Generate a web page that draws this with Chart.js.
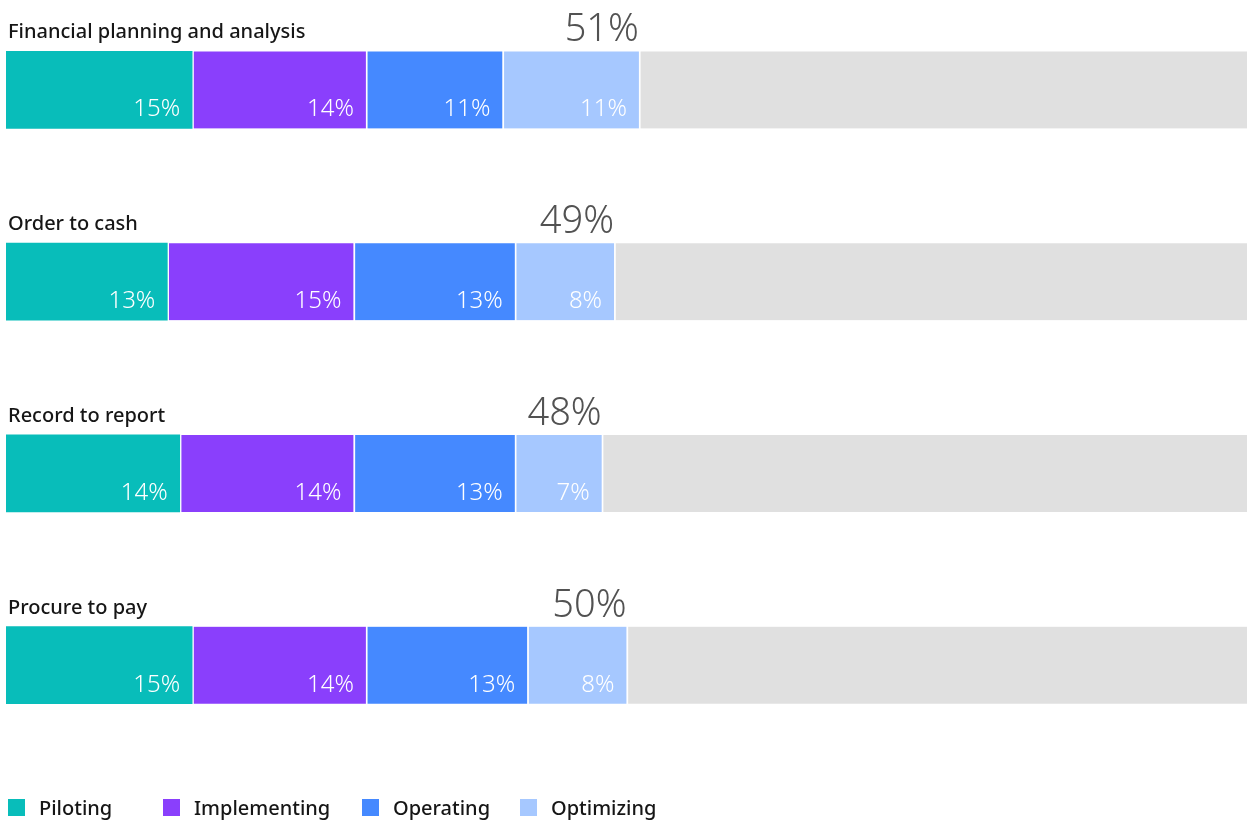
<!DOCTYPE html>
<html>
<head>
<meta charset="utf-8">
<script src="https://cdn.jsdelivr.net/npm/chart.js@4.4.1/dist/chart.umd.min.js"></script>
<style>
  html, body { margin: 0; padding: 0; background: #fff; overflow: hidden; }
  #wrap { position: relative; width: 1247px; height: 821px; overflow: hidden; }
  #holder { position: absolute; left: 0; top: -6px; width: 1247px; height: 827px; }
  #legend { position: absolute; left: 8px; top: 794px; display: flex; font-family: "Noto Sans", sans-serif; font-size: 20px; font-weight: 500; color: #161616; }
  #legend .item { display: flex; align-items: center; }
  #legend .box { width: 17px; height: 17px; margin-right: 14px; }
</style>
</head>
<body>
<div id="wrap">
  <div id="holder"><canvas id="chart"></canvas></div>
  <div id="legend"></div>
</div>
<script>
// Data
const categories = ['Financial planning and analysis', 'Order to cash', 'Record to report', 'Procure to pay'];
const stageNames = ['Piloting', 'Implementing', 'Operating', 'Optimizing'];
const piloting = [15, 13, 14, 15];
const implementing = [14, 15, 14, 14];
const operating = [11, 13, 13, 13];
const optimizing = [11, 8, 7, 8];

const stageColors = ['#08bdba', '#8a3ffc', '#4589ff', '#a6c8ff'];
const series = [piloting, implementing, operating, optimizing];

// Totals and the grey remainder up to 100%
const totals = categories.map((c, i) => series.reduce((s, arr) => s + arr[i], 0));
const remainder = totals.map(t => 100 - t);

const FONT = '"Noto Sans", sans-serif';

const datasets = series.map((arr, k) => ({
  label: stageNames[k],
  data: arr,
  backgroundColor: stageColors[k],
  borderColor: '#ffffff',
  borderWidth: { left: k === 0 ? 0 : 2, right: 0, top: 0, bottom: 0 },
  borderSkipped: false,
  barThickness: 77
}));
datasets.push({
  label: 'Rest',
  data: remainder,
  backgroundColor: '#e0e0e0',
  borderColor: '#ffffff',
  borderWidth: { left: 2, right: 0, top: 0, bottom: 0 },
  borderSkipped: false,
  barThickness: 77
});

// Draw category titles, total labels and segment labels
const labelPlugin = {
  id: 'labels',
  afterDatasetsDraw(chart) {
    const ctx = chart.ctx;
    ctx.save();
    categories.forEach((cat, i) => {
      const first = chart.getDatasetMeta(0).data[i];
      const last = chart.getDatasetMeta(series.length - 1).data[i];
      const top = first.y - first.height / 2;
      const bottom = first.y + first.height / 2;

      // title
      ctx.font = '500 20px ' + FONT;
      ctx.fillStyle = '#161616';
      ctx.textAlign = 'left';
      ctx.textBaseline = 'alphabetic';
      ctx.fillText(cat, 8, top - 13);

      // total
      ctx.font = '300 38px ' + FONT;
      ctx.fillStyle = '#525252';
      ctx.textAlign = 'right';
      ctx.fillText(totals[i] + '%', last.x, top - 10);

      // segments
      ctx.font = '300 24px ' + FONT;
      ctx.fillStyle = '#ffffff';
      series.forEach((arr, k) => {
        const bar = chart.getDatasetMeta(k).data[i];
        ctx.fillText(arr[i] + '%', bar.x - 12, bottom - 12);
      });
    });
    ctx.restore();
  }
};

new Chart(document.getElementById('chart'), {
  type: 'bar',
  data: { labels: categories, datasets: datasets },
  options: {
    indexAxis: 'y',
    responsive: true,
    maintainAspectRatio: false,
    animation: false,
    layout: { padding: { left: 6, right: 0, top: 0, bottom: 60 } },
    plugins: {
      legend: { display: false },
      tooltip: { enabled: false }
    },
    scales: {
      x: { stacked: true, min: 0, max: 100, display: false },
      y: { stacked: true, display: false }
    }
  },
  plugins: [labelPlugin]
});

// HTML legend
const legendWidths = [155, 199, 158, 0];
const legend = document.getElementById('legend');
stageNames.forEach((name, k) => {
  const item = document.createElement('div');
  item.className = 'item';
  if (legendWidths[k]) item.style.width = legendWidths[k] + 'px';
  const box = document.createElement('span');
  box.className = 'box';
  box.style.background = stageColors[k];
  const txt = document.createElement('span');
  txt.textContent = name;
  item.appendChild(box);
  item.appendChild(txt);
  legend.appendChild(item);
});
</script>
</body>
</html>
